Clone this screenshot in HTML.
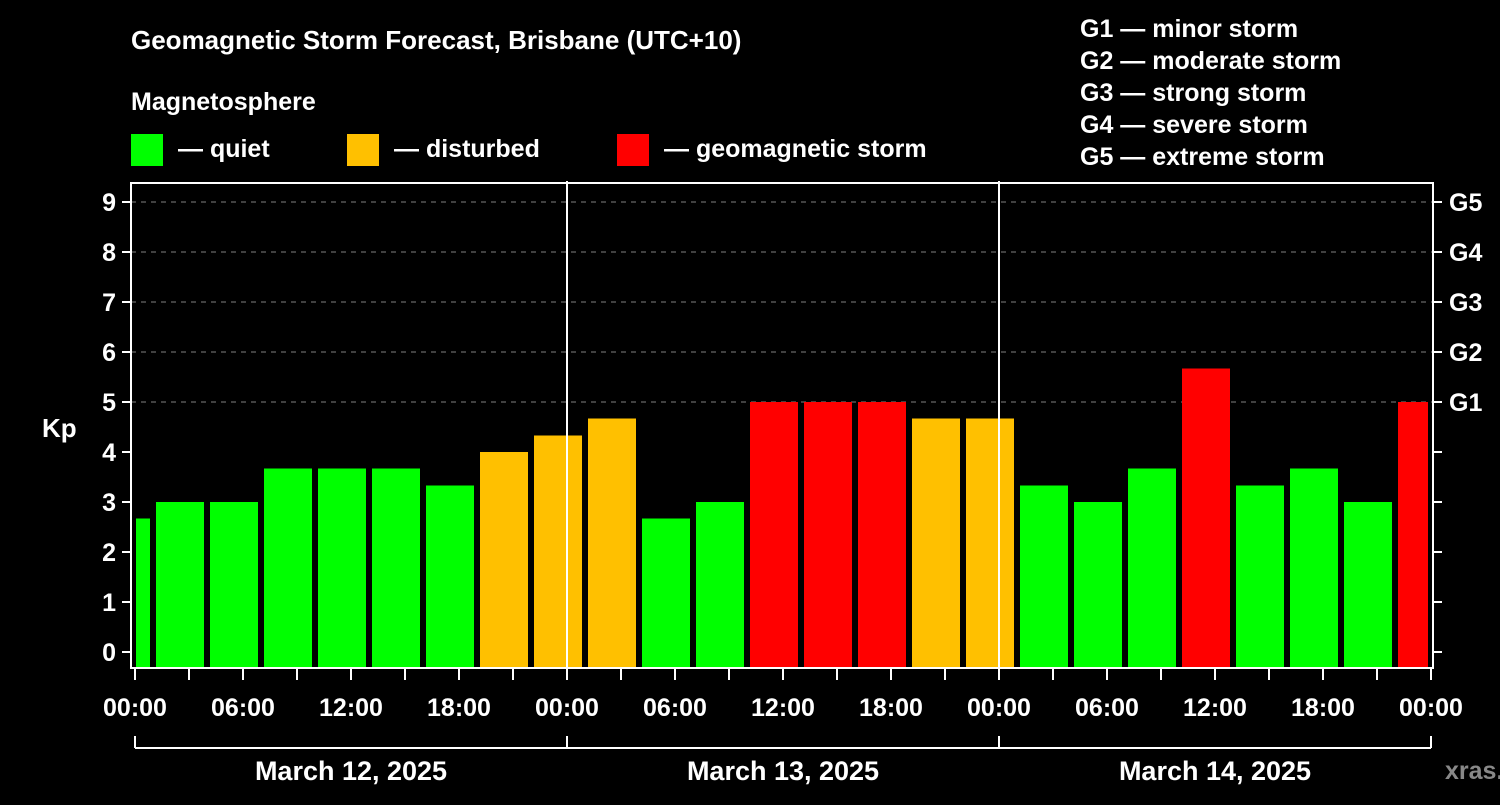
<!DOCTYPE html>
<html><head><meta charset="utf-8"><style>
body{margin:0;background:#000;}
svg text{font-family:"Liberation Sans",Arial,sans-serif;font-weight:bold;fill:#fff;}
</style></head><body>
<svg id="c" width="1500" height="800" viewBox="0 0 1500 800">
<text x="131" y="49" font-size="26">Geomagnetic Storm Forecast, Brisbane (UTC+10)</text>
<text x="131" y="110" font-size="25">Magnetosphere</text>
<g><rect x="131" y="134" width="32" height="32" fill="#00ff00"/><text x="178" y="157" font-size="25">— quiet</text></g>
<g><rect x="347" y="134" width="32" height="32" fill="#ffc000"/><text x="394" y="157" font-size="25">— disturbed</text></g>
<g><rect x="617" y="134" width="32" height="32" fill="#ff0000"/><text x="664" y="157" font-size="25">— geomagnetic storm</text></g>
<g font-size="25">
<text x="1080" y="37">G1 — minor storm</text>
<text x="1080" y="69">G2 — moderate storm</text>
<text x="1080" y="101">G3 — strong storm</text>
<text x="1080" y="133">G4 — severe storm</text>
<text x="1080" y="165">G5 — extreme storm</text>
</g>
<text x="42" y="437" font-size="26">Kp</text>
<text x="1445" y="779" font-size="25" style="fill:#888">xras.ru</text>
<g id="grid"></g><g id="bars"></g><g id="axes"></g>
</svg>
<script>
const kpValues=[2.67,3,3,3.67,3.67,3.67,3.33,4,4.33,4.67,2.67,3,5,5,5,4.67,4.67,3.33,3,3.67,5.67,3.33,3.67,3,5];
const yTicks=[0,1,2,3,4,5,6,7,8,9];
const gLabels=["G1","G2","G3","G4","G5"];
const xTickLabels=["00:00","06:00","12:00","18:00","00:00","06:00","12:00","18:00","00:00","06:00","12:00","18:00","00:00"];
const dayLabels=["March 12, 2025","March 13, 2025","March 14, 2025"];
const NS="http://www.w3.org/2000/svg";
const L=131,R=1433,T=183,B=668,X0=135,PXH=18;
const y=v=>652-50*v;
const x=h=>X0+h*PXH;
function mk(tag,attrs,parent,txt){const e=document.createElementNS(NS,tag);for(const k in attrs)e.setAttribute(k,attrs[k]);if(txt!=null)e.textContent=txt;document.getElementById(parent).appendChild(e);return e;}
for(let v=5;v<=9;v++){const g=mk('line',{x1:L,x2:R,y1:y(v),y2:y(v),stroke:'#808080','stroke-width':1,'stroke-dasharray':'5,5'},'grid');

}
kpValues.forEach((v,k)=>{let a=x(3*k-2)+3,b=x(3*k+1)-3;a=Math.max(a,136);b=Math.min(b,1428);
const c=v>=5?'#ff0000':(v>=4?'#ffc000':'#00ff00');
const r=mk('rect',{x:a,y:y(v),width:b-a,height:667-y(v),fill:c},'bars');

});
const fr=mk('rect',{x:L,y:T,width:R-L,height:B-T,fill:'none',stroke:'#fff','stroke-width':2},'axes');


[1,2].forEach(d=>{mk('line',{x1:x(24*d),x2:x(24*d),y1:181,y2:B,stroke:'#fff','stroke-width':2},'axes');});
yTicks.forEach(v=>{mk('line',{x1:122,x2:L,y1:y(v),y2:y(v),stroke:'#fff','stroke-width':2},'axes');
mk('line',{x1:R,x2:1442,y1:y(v),y2:y(v),stroke:'#fff','stroke-width':2},'axes');
const t=mk('text',{x:116,y:y(v)+9,'font-size':25,'text-anchor':'end'},'axes',String(v));

});
gLabels.forEach((g,i)=>{const t=mk('text',{x:1449,y:y(5+i)+9,'font-size':25},'axes',g);

});
for(let h=0;h<=72;h+=3){mk('line',{x1:x(h),x2:x(h),y1:B,y2:680,stroke:'#fff','stroke-width':2},'axes');}
xTickLabels.forEach((s,i)=>{const t=mk('text',{x:x(6*i),y:716,'font-size':25,'text-anchor':'middle'},'axes',s);

});
mk('line',{x1:x(0),x2:x(72),y1:748,y2:748,stroke:'#fff','stroke-width':2},'axes');
for(let d=0;d<=3;d++)mk('line',{x1:x(24*d),x2:x(24*d),y1:736,y2:748,stroke:'#fff','stroke-width':2},'axes');
dayLabels.forEach((s,i)=>{const t=mk('text',{x:x(24*i+12),y:780,'font-size':27,'text-anchor':'middle'},'axes',s);

});
</script>
</body></html>
